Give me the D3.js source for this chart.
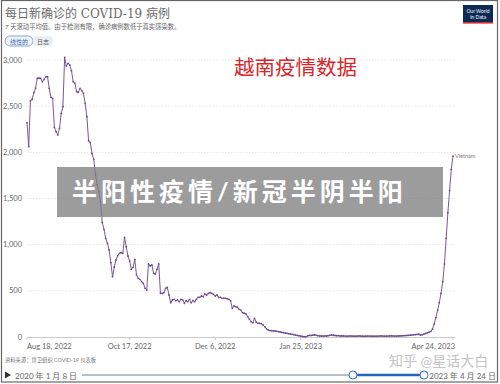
<!DOCTYPE html>
<html>
<head>
<meta charset="utf-8">
<script src="https://cdn.jsdelivr.net/npm/d3@7"></script>
<style>
  body { margin: 0; background: #fff; }
  svg { display: block; }
  text { font-family: Lato, "Noto Sans CJK SC", sans-serif; }
</style>
</head>
<body>
<div id="chart"></div>
<script>
// data: 7-day average of new confirmed cases, Vietnam, one value per day from Aug 18, 2022
const startDate = '2022-08-18';
const cases = [
  2321, 2061, 2559, 2574, 2646, 2693, 2802, 2805, 2802, 2765,
  2790, 2819, 2819, 2693, 2596, 2585, 2271, 2224, 2188, 2260,
  2423, 2494, 3029, 2935, 2964, 2946, 2884, 2765, 2748, 2657,
  2650, 2693, 2668, 2639, 2531, 2386, 2126, 2104, 1989, 1924,
  1760, 1650, 1574, 1465, 1240, 1166, 1069, 1015, 942, 805,
  653, 758, 834, 880, 906, 913, 906, 1080, 978, 877,
  823, 733, 755, 841, 671, 636, 625, 599, 581, 527,
  509, 791, 769, 780, 690, 682, 733, 791, 473, 473,
  480, 527, 538, 455, 372, 401, 408, 393, 401, 383,
  408, 401, 365, 393, 383, 408, 372, 393, 383, 408,
  430, 430, 444, 437, 466, 455, 473, 480, 473, 462,
  444, 455, 430, 430, 419, 419, 419, 415, 408, 393,
  311, 336, 328, 322, 300, 292, 263, 257, 249, 220,
  192, 166, 155, 202, 160, 148, 148, 145, 130, 110,
  88, 76, 70, 68, 66, 65, 62, 58, 55, 50,
  47, 43, 40, 36, 32, 29, 25, 21, 17, 14,
  10, 6, 4, 3, 12, 18, 16, 20, 22, 18,
  14, 12, 11, 10, 12, 11, 14, 18, 22, 19,
  16, 14, 14, 12, 11, 11, 10, 9, 10, 11,
  10, 9, 9, 10, 11, 10, 9, 8, 9, 10,
  10, 9, 9, 8, 9, 10, 10, 11, 10, 9,
  9, 10, 11, 12, 11, 10, 10, 11, 12, 13,
  14, 15, 16, 18, 20, 22, 24, 26, 28, 30,
  20, 25, 32, 38, 45, 52, 60, 85, 140, 210,
  290, 372, 473, 599, 791, 1069, 1346, 1585, 1816, 1960
];
const yTicks = [0, 500, 1000, 1500, 2000, 2500, 3000];
const xTickDates = ['2022-08-18', '2022-10-17', '2022-12-06', '2023-01-25', '2023-04-24'];
const xTickLabels = ['Aug 18, 2022', 'Oct 17, 2022', 'Dec 6, 2022', 'Jan 25, 2023', 'Apr 24, 2023'];

const W = 500, H = 384;
const parse = d3.timeParse('%Y-%m-%d');
const t0 = parse(startDate);
const series = cases.map((v, i) => ({ date: d3.timeDay.offset(t0, i), value: v }));

const svg = d3.select('#chart').append('svg').attr('width', W).attr('height', H);

const x = d3.scaleTime().domain([t0, series[series.length - 1].date]).range([27, 453]);
const y = d3.scaleLinear().domain([0, 3000]).range([337, 60]);

// frame
svg.append('rect').attr('x', 1.5).attr('y', 0.5).attr('width', 496).attr('height', 381.5)
  .attr('fill', '#fff').attr('stroke', '#666').attr('stroke-width', 1.2);

// titles
svg.append('text').attr('x', 5).attr('y', 18).attr('fill', '#6a6a6a')
  .style('font-family', '"DejaVu Serif", "Noto Sans CJK SC", serif').style('font-size', '12px')
  .text('每日新确诊的 COVID-19 病例');
svg.append('text').attr('x', 5).attr('y', 28.5).attr('fill', '#666').style('font-size', '6.3px')
  .text('7 天滚动平均值。由于检测有限，确诊病例数低于真实感染数。');

// linear / log buttons
svg.append('rect').attr('x', 5).attr('y', 36).attr('width', 28).attr('height', 10).attr('rx', 5)
  .attr('fill', '#eef3fb').attr('stroke', '#6e93c8').attr('stroke-width', 0.8);
svg.append('text').attr('x', 19).attr('y', 43.5).attr('text-anchor', 'middle').attr('fill', '#3565a8')
  .style('font-size', '6px').text('线性的');
svg.append('rect').attr('x', 33).attr('y', 36).attr('width', 20).attr('height', 10).attr('rx', 4)
  .attr('fill', '#eceef2');
svg.append('text').attr('x', 43).attr('y', 43.5).attr('text-anchor', 'middle').attr('fill', '#555')
  .style('font-size', '6px').text('日志');

// OWID logo
const logo = svg.append('g').attr('transform', 'translate(463,5)');
logo.append('rect').attr('width', 30).attr('height', 18).attr('fill', '#0d2a54');
logo.append('rect').attr('y', 17).attr('width', 30).attr('height', 1.6).attr('fill', '#ce2b37');
logo.append('text').attr('x', 15).attr('y', 7.5).attr('text-anchor', 'middle').attr('fill', '#fff')
  .style('font-size', '5px').text('Our World');
logo.append('text').attr('x', 15).attr('y', 13.5).attr('text-anchor', 'middle').attr('fill', '#fff')
  .style('font-size', '5px').text('in Data');

// grid
svg.append('g').selectAll('line').data(yTicks.filter(d => d > 0)).join('line')
  .attr('x1', 27).attr('x2', 455).attr('y1', d => y(d)).attr('y2', d => y(d))
  .attr('stroke', '#ddd').attr('stroke-width', 0.8).attr('stroke-dasharray', '1.5,1.5');

// y axis labels
svg.append('g').selectAll('text').data(yTicks).join('text')
  .attr('x', 22).attr('y', d => y(d) + 2.5).attr('text-anchor', 'end').attr('fill', '#666')
  .style('font-size', '7.5px').text(d => d3.format(',')(d));

// x axis
svg.append('line').attr('x1', 27).attr('x2', 455).attr('y1', 337.5).attr('y2', 337.5)
  .attr('stroke', '#bbb').attr('stroke-width', 0.8);
const xDates = xTickDates.map(parse);
svg.append('g').selectAll('line').data(xDates).join('line')
  .attr('x1', d => x(d)).attr('x2', d => x(d)).attr('y1', 337.5).attr('y2', 340)
  .attr('stroke', '#bbb').attr('stroke-width', 0.8);
svg.append('g').selectAll('text').data(xDates).join('text')
  .attr('x', (d, i) => i === 0 ? 27 : i === xDates.length - 1 ? 455 : x(d))
  .attr('y', 348.5)
  .attr('text-anchor', (d, i) => i === 0 ? 'start' : i === xDates.length - 1 ? 'end' : 'middle')
  .attr('fill', '#666').style('font-size', '7.5px').text((d, i) => xTickLabels[i]);

// red annotation
svg.append('text').attr('x', 234).attr('y', 75).attr('fill', '#d8262b')
  .style('font-size', '20.5px').text('越南疫情数据');

// line
const line = d3.line().x(d => x(d.date)).y(d => y(d.value));
svg.append('path').datum(series).attr('d', line).attr('fill', 'none')
  .attr('stroke', '#765a98').attr('stroke-width', 1);
svg.append('g').selectAll('circle').data(series).join('circle')
  .attr('cx', d => x(d.date)).attr('cy', d => y(d.value)).attr('r', 0.9).attr('fill', '#6a4c8e');
const last = series[series.length - 1];
svg.append('text').attr('x', x(last.date) + 2).attr('y', y(last.value) + 2).attr('fill', '#777')
  .style('font-size', '5.5px').text('Vietnam');

// source
svg.append('text').attr('x', 5).attr('y', 362).attr('fill', '#777').style('font-size', '5.3px')
  .text('资料来源：世卫组织 COVID-19 仪表板');

// timeline
svg.append('path').attr('d', 'M5,371.5 L11,375 L5,378.5 Z').attr('fill', '#333');
svg.append('text').attr('x', 15).attr('y', 378.5).attr('fill', '#666').style('font-size', '8px')
  .text('2020 年 1 月 8 日');
svg.append('line').attr('x1', 82).attr('x2', 353).attr('y1', 375).attr('y2', 375)
  .attr('stroke', '#b9bfc9').attr('stroke-width', 2);
svg.append('line').attr('x1', 353).attr('x2', 424).attr('y1', 375).attr('y2', 375)
  .attr('stroke', '#2466b8').attr('stroke-width', 2.6);
[353, 424].forEach(cx => svg.append('circle').attr('cx', cx).attr('cy', 375).attr('r', 4)
  .attr('fill', '#fff').attr('stroke', '#3a78c2').attr('stroke-width', 1));
svg.append('text').attr('x', 496).attr('y', 378.5).attr('text-anchor', 'end').attr('fill', '#666')
  .style('font-size', '8px').text('2023 年 4 月 24 日');

// watermark
svg.append('text').attr('x', 389).attr('y', 366).attr('fill', '#c4c4c4').style('font-size', '14px')
  .text('知乎 @星话大白');

// banner
svg.append('rect').attr('x', 57).attr('y', 167).attr('width', 386).attr('height', 50)
  .attr('fill', 'rgb(128,128,128)').attr('fill-opacity', 0.78);
svg.append('text').attr('x', 72).attr('y', 201).attr('fill', '#fff')
  .style('font-size', '25px').style('font-weight', 700).style('letter-spacing', '4px')
  .text('半阳性疫情/新冠半阴半阳');
</script>
</body>
</html>
